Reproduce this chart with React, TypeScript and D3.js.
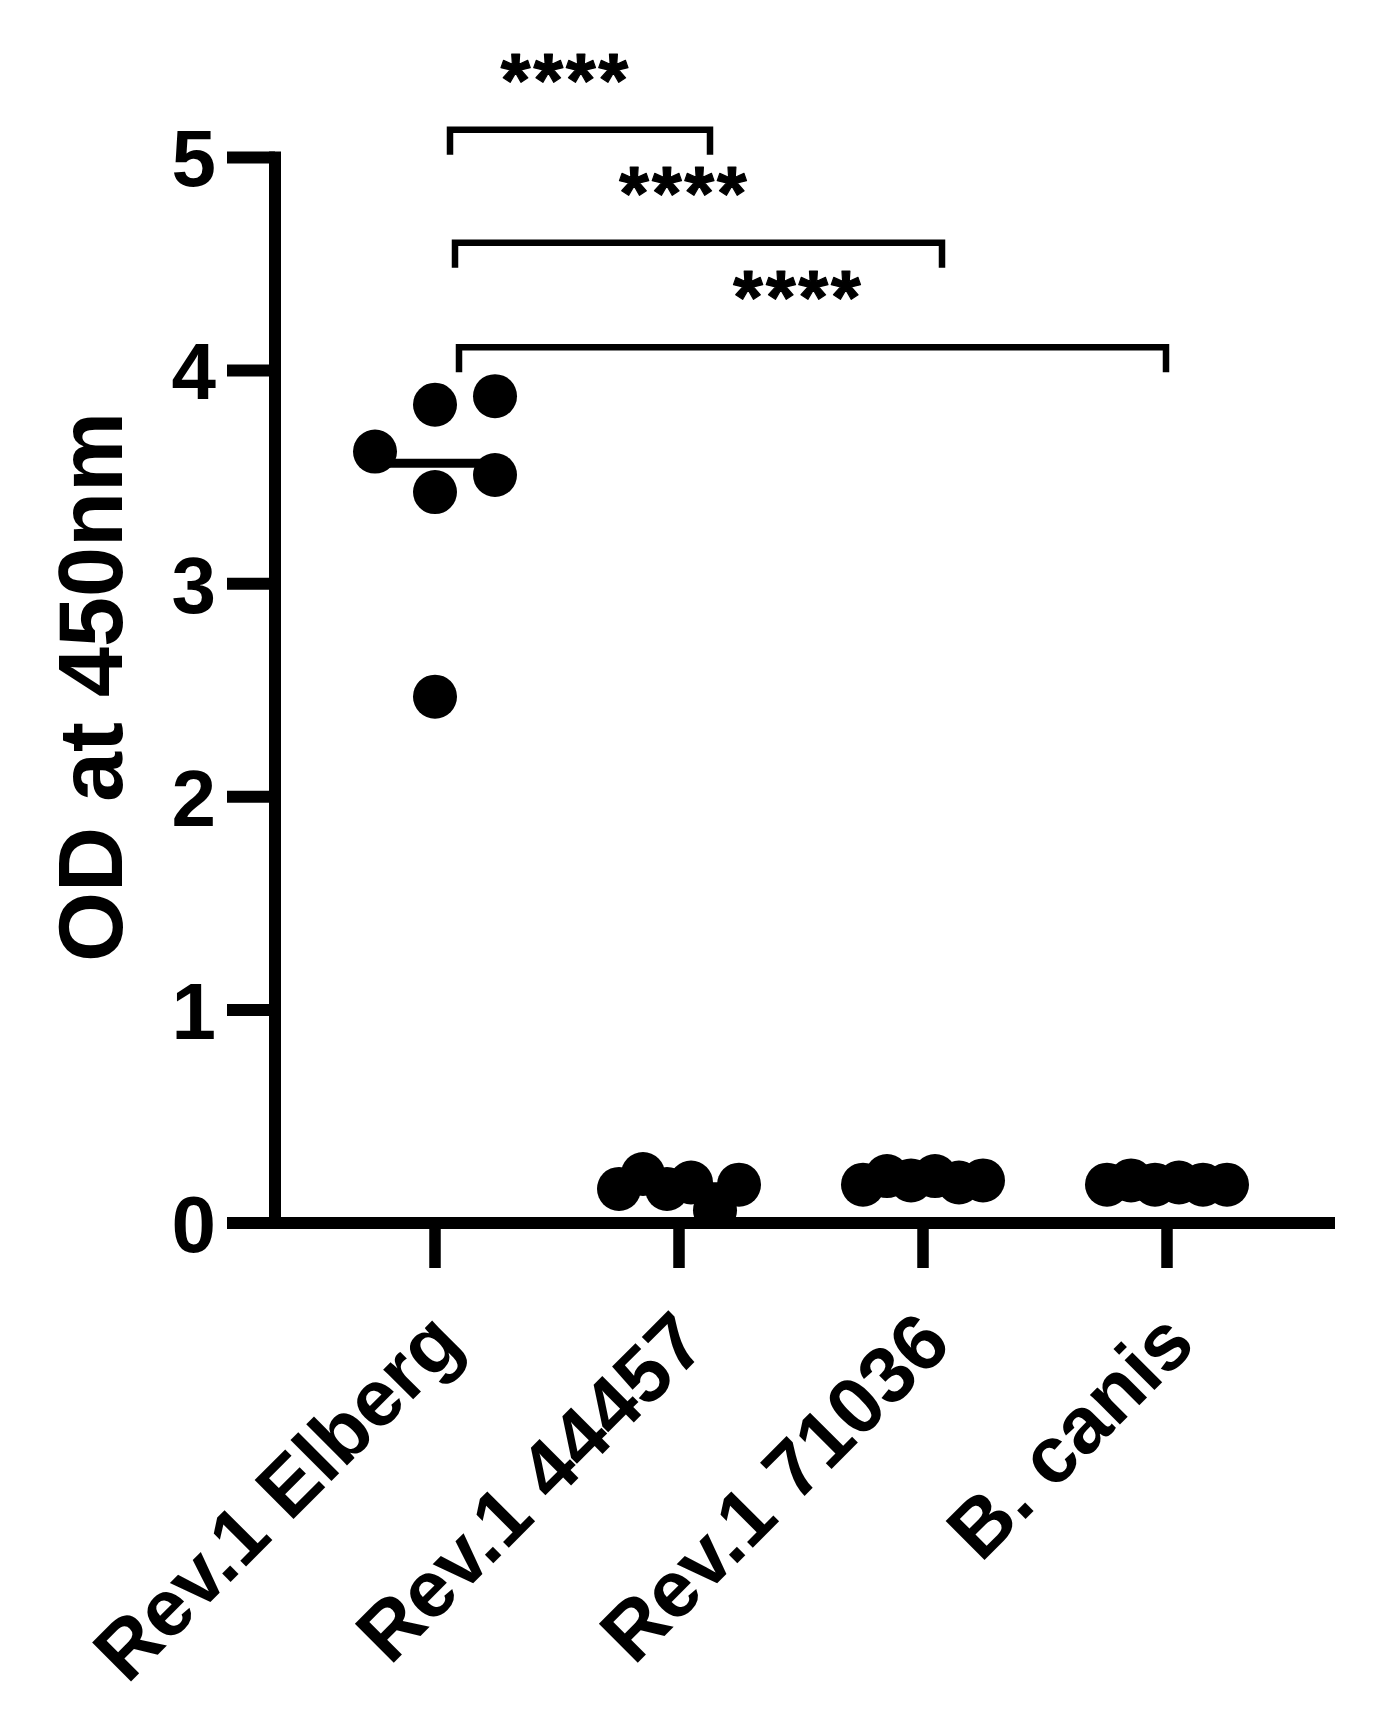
import React from "react";
import * as d3 from "d3";

// ---- data ----
const categories = ["Rev.1 Elberg", "Rev.1 44457", "Rev.1 71036", "B. canis"];
const elbergValues = [3.62, 3.88, 3.84, 3.43, 3.51, 2.47];
const rev44457Values = [0.16, 0.23, 0.16, 0.19, 0.06, 0.18];
const rev71036Values = [0.18, 0.22, 0.2, 0.22, 0.19, 0.2];
const bCanisValues = [0.18, 0.2, 0.18, 0.19, 0.18, 0.18];
const yTicks = [0, 1, 2, 3, 4, 5];
const yTitle = "OD at 450nm";
const comparisonFrom = ["Rev.1 Elberg", "Rev.1 Elberg", "Rev.1 Elberg"];
const comparisonTo = ["Rev.1 44457", "Rev.1 71036", "B. canis"];
const comparisonLevel = [5.13, 4.6, 4.11];
const comparisonLabel = ["****", "****", "****"];

const seriesValues = [elbergValues, rev44457Values, rev71036Values, bCanisValues];

// ---- layout ----
const W = 1382;
const H = 1717;
const FONT = "'Liberation Sans', Arial, Helvetica, sans-serif";
const R = 22;
const STEP = 60;
const HALF_SPREAD = 60;
const bracketLeftOffsets = [15, 20, 24];
const bracketRightOffsets = [31, 19, -1];

const y = d3.scaleLinear().domain([0, 5]).range([1223, 157.5]);
const x = d3.scalePoint<string>().domain(categories).range([435, 1167]);

function swarmOffsets(values: number[]): number[] {
  const order = values.map((v, i) => i).sort((a, b) => values[a] - values[b]);
  const placed: { ox: number; py: number }[] = [];
  const res = new Array(values.length).fill(0);
  const candidates = [0, STEP, -STEP, 2 * STEP, -2 * STEP, 3 * STEP, -3 * STEP];
  for (const i of order) {
    const py = y(values[i]);
    let chosen = candidates[candidates.length - 1];
    for (const c of candidates) {
      const hit = placed.some((p) => Math.hypot(p.ox - c, p.py - py) < 2 * R);
      if (!hit) {
        chosen = c;
        break;
      }
    }
    placed.push({ ox: chosen, py });
    res[i] = chosen;
  }
  const maxAbs = d3.max(res.map((v) => Math.abs(v))) || 0;
  if (maxAbs > HALF_SPREAD) {
    // too crowded: spread evenly in data order
    const n = values.length;
    return values.map((_, i) => -HALF_SPREAD + (2 * HALF_SPREAD * i) / (n - 1));
  }
  return res;
}

export default function App() {
  const axisStroke = 12;
  const x0 = 275;
  const yBase = y(0);

  return (
    <svg
      width={W}
      height={H}
      viewBox={`0 0 ${W} ${H}`}
      style={{ position: "absolute", left: 0, top: 0, background: "#fff" }}
      fontFamily={FONT}
      fontWeight="bold"
    >
      <defs>
        <clipPath id="plotClip">
          <rect x={x0} y={0} width={W - x0} height={yBase - axisStroke / 2} />
        </clipPath>
      </defs>
      <rect x={0} y={0} width={W} height={H} fill="#fff" />

      {/* medians */}
      <g clipPath="url(#plotClip)">
        {seriesValues.map((vals, gi) => {
          const m = d3.median(vals)!;
          const cx = x(categories[gi])!;
          return (
            <line
              key={"m" + gi}
              x1={cx - 60}
              x2={cx + 60}
              y1={y(m)}
              y2={y(m)}
              stroke="#000"
              strokeWidth={9}
            />
          );
        })}

        {/* points */}
        {seriesValues.map((vals, gi) => {
          const offs = swarmOffsets(vals);
          const cx = x(categories[gi])!;
          return (
            <g key={"g" + gi}>
              {vals.map((v, i) => (
                <circle key={i} cx={cx + offs[i]} cy={y(v)} r={R} fill="#000" />
              ))}
            </g>
          );
        })}
      </g>

      {/* y axis */}
      <line x1={x0} x2={x0} y1={y(5) - 6} y2={yBase + 6} stroke="#000" strokeWidth={axisStroke} />
      {yTicks.map((t) => (
        <g key={t}>
          <line x1={227} x2={x0} y1={y(t)} y2={y(t)} stroke="#000" strokeWidth={axisStroke} />
          <text x={216} y={y(t)} dy="0.36em" textAnchor="end" fontSize={80} fill="#000">
            {t}
          </text>
        </g>
      ))}

      {/* x axis */}
      <line x1={227} x2={1335} y1={yBase} y2={yBase} stroke="#000" strokeWidth={axisStroke} />
      {categories.map((c) => (
        <g key={c}>
          <line x1={x(c)!} x2={x(c)!} y1={yBase} y2={1268} stroke="#000" strokeWidth={11.5} />
          <text
            transform={`translate(${x(c)! - 10},${1306}) rotate(-45)`}
            textAnchor="end"
            dy="0.72em"
            fontSize={80}
            fill="#000"
          >
            {c}
          </text>
        </g>
      ))}

      {/* y title */}
      <text
        transform={`translate(122,687) rotate(-90)`}
        textAnchor="middle"
        fontSize={90}
        fill="#000"
      >
        {yTitle}
      </text>

      {/* significance brackets */}
      {comparisonFrom.map((f, i) => {
        const xl = x(f)! + bracketLeftOffsets[i];
        const xr = x(comparisonTo[i])! + bracketRightOffsets[i];
        const by = y(comparisonLevel[i]);
        const leg = 25;
        return (
          <g key={"b" + i}>
            <path
              d={`M${xl},${by + leg} V${by} H${xr} V${by + leg}`}
              fill="none"
              stroke="#000"
              strokeWidth={6.5}
              strokeLinejoin="miter"
              strokeLinecap="butt"
            />
            <text
              x={(xl + xr) / 2 - 14}
              y={by - 24}
              textAnchor="middle"
              fontSize={76}
              letterSpacing={3}
              fill="#000"
              stroke="#000"
              strokeWidth={1.2}
              strokeLinejoin="round"
            >
              {comparisonLabel[i]}
            </text>
          </g>
        );
      })}
    </svg>
  );
}
